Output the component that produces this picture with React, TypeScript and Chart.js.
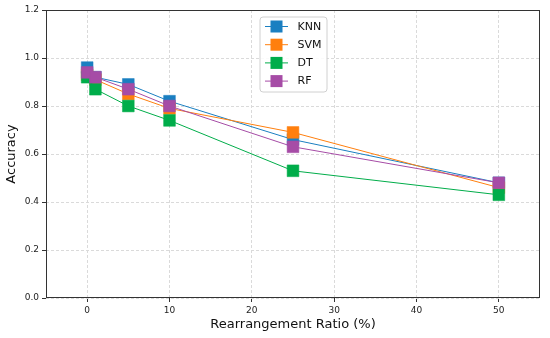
import React, { useEffect, useRef } from "react";
import { Chart, registerables } from "chart.js";

Chart.register(...registerables);

const ratios = [0, 1, 5, 10, 25, 50];
const knn = [0.96, 0.92, 0.89, 0.82, 0.66, 0.48];
const svm = [0.93, 0.91, 0.85, 0.79, 0.69, 0.46];
const dt = [0.92, 0.87, 0.8, 0.74, 0.53, 0.43];
const rf = [0.94, 0.92, 0.87, 0.8, 0.63, 0.48];
const seriesNames = ["KNN", "SVM", "DT", "RF"];
const seriesColors = ["#1a7fc1", "#ff7f0e", "#00ad4a", "#a64ca6"];
const xTicks = [0, 10, 20, 30, 40, 50];

const FONT = "'DejaVu Sans', sans-serif";

const framePlugin = {
  id: "frame",
  beforeDatasetsDraw(chart: any) {
    const { ctx, chartArea } = chart;
    ctx.save();
    ctx.strokeStyle = "#333";
    ctx.lineWidth = 1;
    ctx.strokeRect(
      Math.round(chartArea.left) + 0.5,
      Math.round(chartArea.top) + 0.5,
      Math.round(chartArea.right - chartArea.left) - 1,
      Math.round(chartArea.bottom - chartArea.top) - 1
    );
    ctx.restore();
  },
};

const legendPlugin = {
  id: "customLegend",
  afterDraw(chart: any) {
    const { ctx } = chart;
    const x0 = 260, y0 = 17, w = 67, h = 75, r = 3;
    ctx.save();
    ctx.beginPath();
    ctx.moveTo(x0 + r, y0);
    ctx.lineTo(x0 + w - r, y0);
    ctx.arcTo(x0 + w, y0, x0 + w, y0 + r, r);
    ctx.lineTo(x0 + w, y0 + h - r);
    ctx.arcTo(x0 + w, y0 + h, x0 + w - r, y0 + h, r);
    ctx.lineTo(x0 + r, y0 + h);
    ctx.arcTo(x0, y0 + h, x0, y0 + h - r, r);
    ctx.lineTo(x0, y0 + r);
    ctx.arcTo(x0, y0, x0 + r, y0, r);
    ctx.closePath();
    ctx.fillStyle = "rgba(255,255,255,0.85)";
    ctx.fill();
    ctx.strokeStyle = "#d0d0d0";
    ctx.lineWidth = 1;
    ctx.stroke();
    chart.data.datasets.forEach((ds: any, i: number) => {
      const cy = 26.5 + i * 18.2;
      ctx.strokeStyle = ds.borderColor;
      ctx.lineWidth = 1;
      ctx.beginPath();
      ctx.moveTo(265, cy);
      ctx.lineTo(288, cy);
      ctx.stroke();
      ctx.fillStyle = ds.pointBackgroundColor;
      ctx.fillRect(270.5, cy - 6, 12, 12);
      ctx.fillStyle = "#111";
      ctx.font = `11px ${FONT}`;
      ctx.textBaseline = "middle";
      ctx.textAlign = "left";
      ctx.fillText(ds.label, 297.5, cy + 0.5);
    });
    ctx.restore();
  },
};

export default function App() {
  const ref = useRef<HTMLCanvasElement | null>(null);
  useEffect(() => {
    if (!ref.current) return;
    const all = [knn, svm, dt, rf];
    const chart = new Chart(ref.current, {
      type: "line",
      data: {
        datasets: all.map((vals, i) => ({
          label: seriesNames[i],
          data: ratios.map((r, j) => ({ x: r, y: vals[j] })),
          order: all.length - 1 - i,
          borderColor: seriesColors[i],
          backgroundColor: seriesColors[i],
          pointBackgroundColor: seriesColors[i],
          pointBorderColor: seriesColors[i],
          pointBorderWidth: 0.5,
          pointStyle: "rect",
          pointRadius: 8.3,
          borderWidth: 1,
          tension: 0,
          fill: false,
        })),
      },
      options: {
        animation: false,
        responsive: false,
        maintainAspectRatio: false,
        layout: { padding: { left: 0, top: 10, right: 10, bottom: 0 } },
        plugins: { legend: { display: false }, tooltip: { enabled: false } },
        scales: {
          x: {
            type: "linear",
            min: -5,
            max: 55,
            afterBuildTicks: (scale: any) => {
              scale.ticks = xTicks.map((v) => ({ value: v }));
            },
            afterFit: (scale: any) => {
              scale.height = 40;
            },
            ticks: {
              color: "#222",
              font: { family: FONT, size: 9 },
              padding: 3,
              maxRotation: 0,
              autoSkip: false,
            },
            grid: {
              color: "#dadada",
              lineWidth: 1,
              tickColor: "#333",
              tickLength: 4,
              tickWidth: 1,
            },
            border: { display: false, dash: [3, 2] },
            title: {
              display: true,
              text: "Rearrangement Ratio (%)",
              color: "#111",
              font: { family: FONT, size: 13 },
              padding: { top: 0, bottom: 6 },
            },
          },
          y: {
            min: 0,
            max: 1.2,
            afterFit: (scale: any) => {
              scale.width = 46;
            },
            ticks: {
              stepSize: 0.2,
              color: "#222",
              font: { family: FONT, size: 9 },
              padding: 3,
              callback: (v: any) => Number(v).toFixed(1),
            },
            grid: {
              color: "#dadada",
              lineWidth: 1,
              tickColor: "#333",
              tickLength: 4,
              tickWidth: 1,
            },
            border: { display: false, dash: [3, 2] },
            title: {
              display: true,
              text: "Accuracy",
              color: "#111",
              font: { family: FONT, size: 13 },
              padding: { top: 4, bottom: 0 },
            },
          },
        },
      },
      plugins: [framePlugin, legendPlugin],
    } as any);
    return () => chart.destroy();
  }, []);
  return (
    <div style={{ position: "fixed", left: 0, top: 0, width: 550, height: 338, background: "#fff" }}>
      <canvas ref={ref} width={550} height={338} style={{ width: 550, height: 338, display: "block" }} />
    </div>
  );
}
